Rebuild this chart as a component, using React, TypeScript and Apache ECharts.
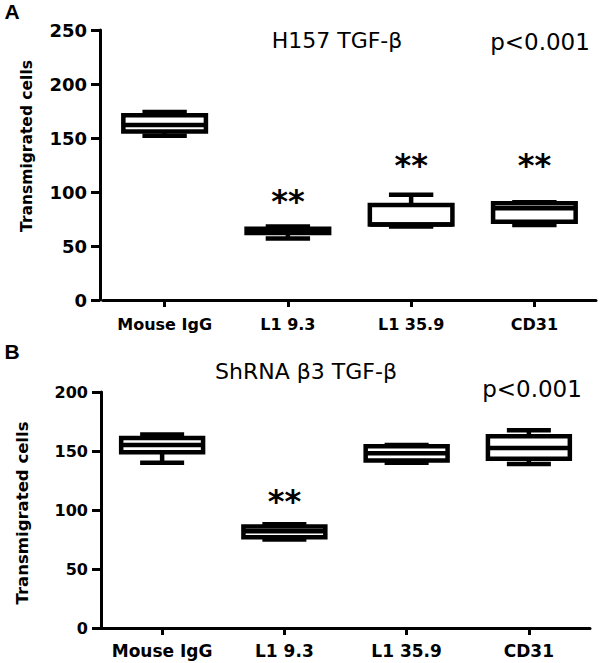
import React, { useEffect, useRef } from "react";
import * as echarts from "echarts";

const categories = ["Mouse IgG", "L1 9.3", "L1 35.9", "CD31"];
// each box: [min, Q1, median, Q3, max]
const boxesA = [
  [152, 156, 162, 171, 174],
  [57, 62, 64, 66, 68],
  [68, 70, 70, 88, 97.5],
  [69.5, 72.5, 85, 89.5, 90.5],
];
const boxesB = [
  [140, 149, 155, 161, 164],
  [75, 77, 82, 86, 88],
  [140, 142, 148, 154, 155],
  [139, 143.5, 152.5, 162.5, 167.5],
];
// significance marks: [category index, y value]
const starsA = [
  [1, 92],
  [2, 125],
  [3, 125],
];
const starsB = [[1, 108]];
const yTicksA = { min: 0, max: 250, interval: 50 };
const yTicksB = { min: 0, max: 200, interval: 50 };

const FONT = "DejaVu Sans";

function boxRender(params: any, api: any) {
  const c = api.value(0);
  const pMin = api.coord([c, api.value(1)]);
  const pQ1 = api.coord([c, api.value(2)]);
  const pMed = api.coord([c, api.value(3)]);
  const pQ3 = api.coord([c, api.value(4)]);
  const pMax = api.coord([c, api.value(5)]);
  const band = api.size([1, 0])[0];
  const bw = band * 0.67;
  const cw = band * 0.36;
  const cx = pMed[0];
  const ls = { stroke: "#000", lineWidth: 4.5 };
  return {
    type: "group",
    children: [
      { type: "line", shape: { x1: cx, y1: pQ3[1], x2: cx, y2: pMax[1] }, style: ls },
      { type: "line", shape: { x1: cx, y1: pQ1[1], x2: cx, y2: pMin[1] }, style: ls },
      { type: "line", shape: { x1: cx - cw / 2, y1: pMax[1], x2: cx + cw / 2, y2: pMax[1] }, style: ls },
      { type: "line", shape: { x1: cx - cw / 2, y1: pMin[1], x2: cx + cw / 2, y2: pMin[1] }, style: ls },
      {
        type: "rect",
        shape: { x: cx - bw / 2, y: pQ3[1], width: bw, height: pQ1[1] - pQ3[1] },
        style: { fill: "#fff", stroke: "#000", lineWidth: 4.5 },
      },
      { type: "line", shape: { x1: cx - bw / 2, y1: pMed[1], x2: cx + bw / 2, y2: pMed[1] }, style: ls },
    ],
  };
}

function starRender(params: any, api: any) {
  const p = api.coord([api.value(0), api.value(1)]);
  return {
    type: "text",
    x: p[0],
    y: p[1],
    style: {
      text: "**",
      fill: "#000",
      font: `bold 32px '${FONT}'`,
      align: "center",
      verticalAlign: "middle",
    },
  };
}

function yAxisCfg(grid: number, t: any, fs: number, offset: number) {
  return {
    type: "value",
    gridIndex: grid,
    min: t.min,
    max: t.max,
    interval: t.interval,
    offset,
    splitLine: { show: false },
    axisLine: { show: true, lineStyle: { color: "#000", width: 3 } },
    axisTick: { show: true, length: 9, lineStyle: { color: "#000", width: 3 } },
    axisLabel: { color: "#000", fontFamily: FONT, fontWeight: "bold", fontSize: fs, margin: 13 },
  };
}

function xAxisCfg(grid: number, fs: number, margin: number) {
  return {
    type: "category",
    gridIndex: grid,
    data: categories,
    axisLine: { show: true, lineStyle: { color: "#000", width: 3 } },
    axisTick: { show: true, alignWithLabel: true, length: 7, lineStyle: { color: "#000", width: 3 } },
    axisLabel: { color: "#000", fontFamily: FONT, fontWeight: "bold", fontSize: fs, margin, interval: 0 },
  };
}

function txt(text: string, x: number, y: number, size: number, weight = "normal", rotation = 0, family = FONT) {
  return {
    type: "text",
    x,
    y,
    rotation,
    style: {
      text,
      fill: "#000",
      font: `${weight} ${size}px '${family}'`,
      align: "center",
      verticalAlign: "middle",
    },
  };
}

export default function App() {
  const ref = useRef<HTMLDivElement>(null);
  useEffect(() => {
    document.body.style.margin = "0";
    const chart = echarts.init(ref.current!, null, { renderer: "svg" });
    chart.setOption({
      animation: false,
      backgroundColor: "#fff",
      grid: [
        { left: 103, top: 30, width: 493, height: 270 },
        { left: 101, top: 392, width: 489, height: 236 },
      ],
      xAxis: [xAxisCfg(0, 16, 16), xAxisCfg(1, 17, 14)],
      yAxis: [yAxisCfg(0, yTicksA, 18, 3), yAxisCfg(1, yTicksB, 16, 0)],
      series: [
        {
          type: "custom",
          xAxisIndex: 0,
          yAxisIndex: 0,
          renderItem: boxRender,
          encode: { x: 0, y: [1, 2, 3, 4, 5] },
          data: boxesA.map((b, i) => [i, ...b]),
        },
        {
          type: "custom",
          xAxisIndex: 1,
          yAxisIndex: 1,
          renderItem: boxRender,
          encode: { x: 0, y: [1, 2, 3, 4, 5] },
          data: boxesB.map((b, i) => [i, ...b]),
        },
        {
          type: "custom",
          xAxisIndex: 0,
          yAxisIndex: 0,
          renderItem: starRender,
          encode: { x: 0, y: 1 },
          data: starsA,
        },
        {
          type: "custom",
          xAxisIndex: 1,
          yAxisIndex: 1,
          renderItem: starRender,
          encode: { x: 0, y: 1 },
          data: starsB,
        },
      ],
      graphic: [
        txt("A", 12, 11, 21, "bold", 0, "Liberation Sans"),
        txt("B", 12, 351, 21, "bold", 0, "Liberation Sans"),
        txt("H157 TGF-β", 337, 40, 22),
        txt("p<0.001", 540, 42, 23),
        txt("ShRNA β3 TGF-β", 306, 371, 22),
        txt("p<0.001", 532, 389, 23),
        txt("Transmigrated cells", 27, 146, 15.5, "bold", Math.PI / 2),
        txt("Transmigrated cells", 22, 513, 16.5, "bold", Math.PI / 2),
      ],
    });
    return () => chart.dispose();
  }, []);
  return <div ref={ref} style={{ width: 600, height: 663 }} />;
}
